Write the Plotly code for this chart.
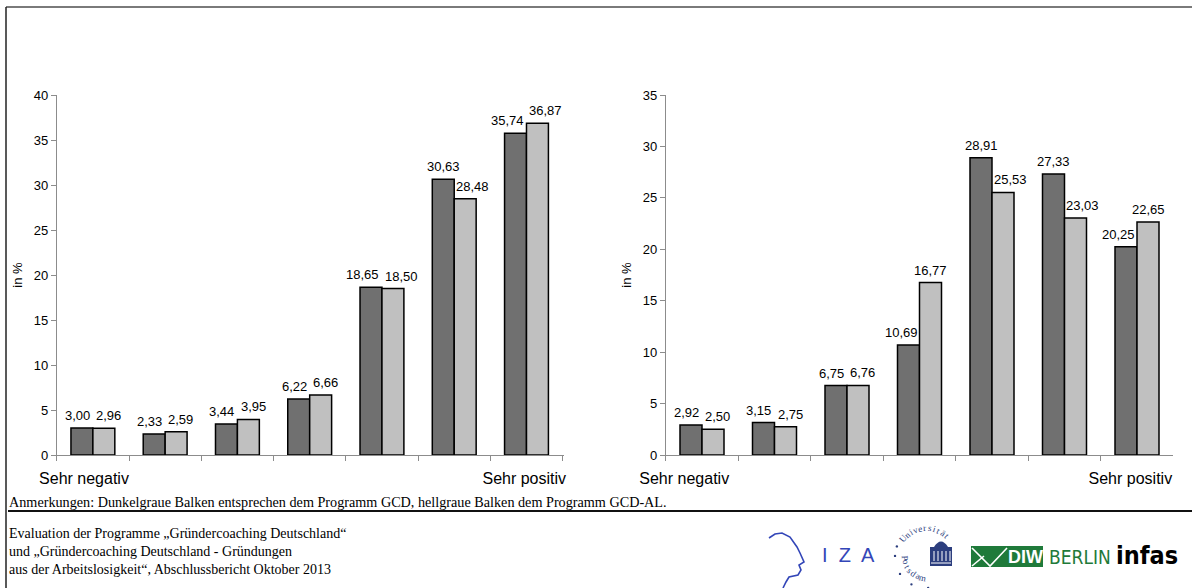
import math
import plotly.graph_objects as go

W, H = 1192, 588

categories = ["k1", "k2", "k3", "k4", "k5", "k6", "k7"]
NB = "\u00a0"
left_tick_labels = ["Sehr negativ" + NB * 4, "", "", "", "", "", "Sehr positiv" + NB]
right_tick_labels = ["Sehr negativ" + NB * 8, "", "", "", "", "", "Sehr positiv" + NB * 3]

left_gcd = [3.00, 2.33, 3.44, 6.22, 18.65, 30.63, 35.74]
left_gcd_al = [2.96, 2.59, 3.95, 6.66, 18.50, 28.48, 36.87]
right_gcd = [2.92, 3.15, 6.75, 10.69, 28.91, 27.33, 20.25]
right_gcd_al = [2.50, 2.75, 6.76, 16.77, 25.53, 23.03, 22.65]

DARK = "#707070"
LIGHT = "#c0c0c0"
FONT = "Liberation Sans, Arial, sans-serif"
SERIF = "Liberation Serif, Times New Roman, serif"

PLOT_TOP, PLOT_BOTTOM = 95, 455


def px(x):
    return x / W


def py(y):
    return 1 - y / H


fig = go.Figure()
annos = []
shapes = []


def fmt(v):
    return f"{v:.2f}".replace(".", ",")


def label_width(s):
    # approximate rendered width at 13px Liberation Sans
    return sum(3.6 if ch == "," else 7.23 for ch in s)


def add_pair(dark, light, xa, ya, ymax):
    for vals, color in ((dark, DARK), (light, LIGHT)):
        fig.add_trace(go.Bar(
            x=categories, y=vals, xaxis=xa, yaxis=ya,
            marker=dict(color=color, line=dict(color="#000000", width=1.5)),
            cliponaxis=False, showlegend=False, hoverinfo="skip",
        ))
    pxu = (PLOT_BOTTOM - PLOT_TOP) / ymax
    for c, d, l in zip(categories, dark, light):
        sd, sl = fmt(d), fmt(l)
        wd, wl = label_width(sd), label_width(sl)
        shift_d, shift_l = -11, 11
        if abs(d - l) * pxu < 14:
            need = (wd + wl) / 2 + 6
            extra = max(0, need - 22) / 2
            shift_d, shift_l = -11 - extra, 11 + extra
        elif l > d:
            shift_d = -11 - max(0, wd / 2 - 11 + 2)
        else:
            shift_l = 11 + max(0, wl / 2 - 11 + 2)
        for v, s, sh in ((d, sd, shift_d), (l, sl, shift_l)):
            annos.append(dict(
                x=c, y=v, xref=xa, yref=ya, text=s,
                showarrow=False, xanchor="center", yanchor="bottom", xshift=sh, yshift=3,
                font=dict(family=FONT, size=13, color="#000000"),
            ))


add_pair(left_gcd, left_gcd_al, "x", "y", 40)
add_pair(right_gcd, right_gcd_al, "x2", "y2", 35)

xcommon = dict(
    type="category", tickvals=categories, tickangle=0,
    tickson="boundaries", ticks="outside", ticklen=5, tickcolor="#8c8c8c",
    showline=True, linecolor="#8c8c8c", linewidth=1, showgrid=False,
    zeroline=False, tickfont=dict(family=FONT, size=16, color="#000000"),
    ticklabelstandoff=9, fixedrange=True, automargin=False,
)
ycommon = dict(
    ticks="outside", ticklen=5, tickcolor="#8c8c8c", showline=True,
    linecolor="#8c8c8c", linewidth=1, showgrid=False, zeroline=False,
    tickfont=dict(family=FONT, size=13, color="#000000"), dtick=5,
    title=dict(text="in %", font=dict(family=FONT, size=13, color="#000000"), standoff=8),
    fixedrange=True, automargin=False,
)

fig.update_layout(
    width=W, height=H, autosize=False,
    margin=dict(l=0, r=0, t=0, b=0, autoexpand=False),
    paper_bgcolor="white", plot_bgcolor="white",
    barmode="group", bargap=0.393, bargroupgap=0,
    xaxis=dict(domain=[px(56.75), px(564.25)], anchor="y", ticktext=left_tick_labels, **xcommon),
    yaxis=dict(domain=[py(PLOT_BOTTOM), py(PLOT_TOP)], anchor="x", range=[0, 40], **ycommon),
    xaxis2=dict(domain=[px(665.75), px(1173.25)], anchor="y2", ticktext=right_tick_labels, **xcommon),
    yaxis2=dict(domain=[py(PLOT_BOTTOM), py(PLOT_TOP)], anchor="x2", range=[0, 35], **ycommon),
)

# frame lines
shapes.append(dict(type="line", xref="paper", yref="paper", x0=px(6), x1=px(1192), y0=py(7), y1=py(7),
                   line=dict(color="#7a7a7a", width=2)))
shapes.append(dict(type="line", xref="paper", yref="paper", x0=px(6), x1=px(6), y0=py(7), y1=py(588),
                   line=dict(color="#222222", width=1.5)))
shapes.append(dict(type="line", xref="paper", yref="paper", x0=px(8), x1=px(1192), y0=py(511), y1=py(511),
                   line=dict(color="#111111", width=2)))


def text_at(text, x, y, size, color, family=FONT, angle=0, xanchor="center"):
    annos.append(dict(text=text, x=px(x), y=py(y), xref="paper", yref="paper", showarrow=False,
                      xanchor=xanchor, yanchor="middle", textangle=angle,
                      font=dict(family=family, size=size, color=color)))


text_at("Anmerkungen: Dunkelgraue Balken entsprechen dem Programm GCD, hellgraue Balken dem Programm GCD-AL.",
        7, 502, 14.2, "#000000", SERIF, xanchor="left")
footer = ["Evaluation der Programme „Gründercoaching Deutschland“",
          "und „Gründercoaching Deutschland - Gründungen",
          "aus der Arbeitslosigkeit“, Abschlussbericht Oktober 2013"]
for i, line in enumerate(footer):
    text_at(line, 7, 533 + 18 * i, 14, "#000000", SERIF, xanchor="left")

# ---- logos (decorative) ----
BLUE = "#3346b8"
head = [(769, 538), (775, 534), (782, 533), (790, 537), (797, 547), (800, 553), (804, 562), (799, 565),
        (801, 570), (798, 575), (789, 577), (786, 582), (783, 588)]
path = "M " + " L ".join(f"{px(x)},{py(y)}" for x, y in head)
shapes.append(dict(type="path", xref="paper", yref="paper", path=path, line=dict(color=BLUE, width=1.6)))
text_at("I  Z  A", 848, 555, 20, BLUE)

# Universität Potsdam seal
NAVY = "#2c3e7e"
cx, cy = 926, 557
word = "Universität"
r = 29
angs = [140 - i * 9.5 for i in range(len(word))]
for ch, a in zip(word, angs):
    t = math.radians(a)
    text_at(ch, cx + r * math.cos(t), cy - r * math.sin(t), 9, NAVY, SERIF, angle=90 - a)
word2 = "Potsdam"
r2 = 21
angs2 = [182 + i * 13 for i in range(len(word2))]
for ch, a in zip(word2, angs2):
    t = math.radians(a)
    text_at(ch, cx + r2 * math.cos(t), cy - r2 * math.sin(t), 9, NAVY, SERIF, angle=270 - a)
for a in [160, 178, 213, 242, 274]:
    t = math.radians(a)
    x, y = cx + 31 * math.cos(t), cy - 31 * math.sin(t)
    shapes.append(dict(type="circle", xref="paper", yref="paper", x0=px(x - 1.2), x1=px(x + 1.2),
                       y0=py(y - 1.2), y1=py(y + 1.2), fillcolor=NAVY, line=dict(width=0)))
# building
shapes.append(dict(type="path", xref="paper", yref="paper",
                   path=f"M {px(934)},{py(547)} Q {px(941)},{py(536)} {px(948)},{py(547)} Z",
                   fillcolor=NAVY, line=dict(width=0)))
shapes.append(dict(type="rect", xref="paper", yref="paper", x0=px(930), x1=px(952), y0=py(566), y1=py(547),
                   fillcolor=NAVY, line=dict(width=0)))
for xx in [934, 938, 942, 946, 950]:
    shapes.append(dict(type="line", xref="paper", yref="paper", x0=px(xx), x1=px(xx), y0=py(561), y1=py(551),
                       line=dict(color="white", width=1)))
shapes.append(dict(type="line", xref="paper", yref="paper", x0=px(931), x1=px(951), y0=py(563), y1=py(563),
                   line=dict(color="white", width=1)))

# DIW Berlin
GREEN = "#1f7a3a"
shapes.append(dict(type="rect", xref="paper", yref="paper", x0=px(971), x1=px(1043), y0=py(567), y1=py(546),
                   fillcolor=GREEN, line=dict(width=0)))
shapes.append(dict(type="path", xref="paper", yref="paper",
                   path=f"M {px(972)},{py(548)} L {px(990)},{py(566)} L {px(1007)},{py(548)}",
                   line=dict(color="white", width=1.6)))
shapes.append(dict(type="path", xref="paper", yref="paper",
                   path=f"M {px(972)},{py(566)} L {px(984)},{py(556)}",
                   line=dict(color="white", width=1.6)))
text_at("<b>DIW</b>", 1025, 557, 18, "white")
text_at("BERLIN", 1080, 557, 19, GREEN, "DejaVu Sans Condensed, " + FONT)
text_at("<b>infas</b>", 1147, 555, 25, "#000000", "DejaVu Sans Condensed, " + FONT)

fig.update_layout(shapes=shapes, annotations=annos)

fig.write_html("out.html", config={"displayModeBar": False},
               post_script="document.body.style.margin='0';document.documentElement.style.overflow='hidden';")
